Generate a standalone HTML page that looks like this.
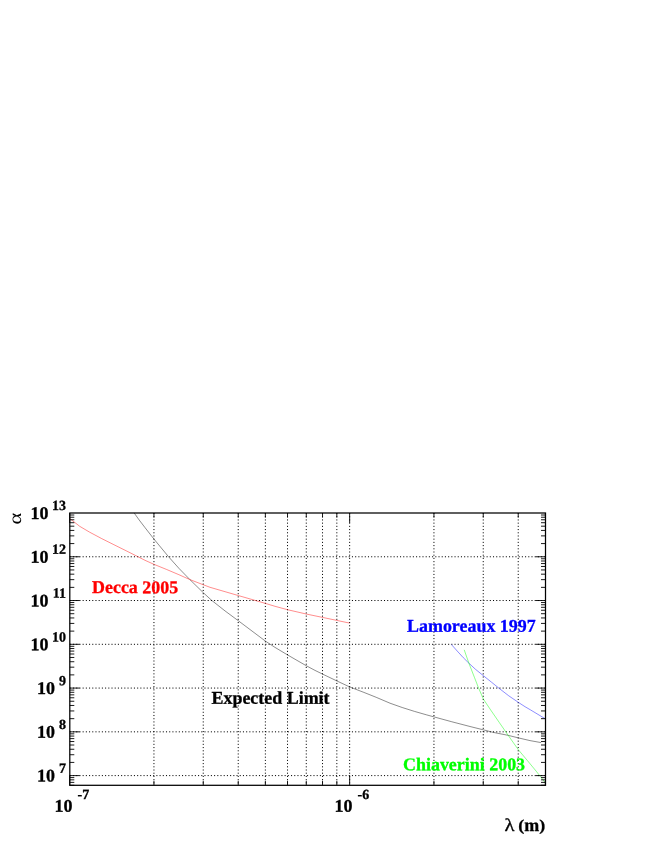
<!DOCTYPE html><html><head><meta charset="utf-8"><title>plot</title>
<style>html,body{margin:0;padding:0;background:#fff;}svg{display:block;will-change:transform;}text{font-family:"Liberation Serif",serif;font-weight:bold;text-rendering:geometricPrecision;stroke-width:0.3px;stroke-linejoin:round;}</style></head><body>
<svg width="654" height="846" viewBox="0 0 654 846">
<rect width="654" height="846" fill="#fff"/>
<line x1="69.8" y1="775.60" x2="545.5" y2="775.60" stroke="#000" stroke-width="1" stroke-dasharray="1.07 2.136" fill="none"/>
<line x1="69.8" y1="731.83" x2="545.5" y2="731.83" stroke="#000" stroke-width="1" stroke-dasharray="1.07 2.136" fill="none"/>
<line x1="69.8" y1="688.07" x2="545.5" y2="688.07" stroke="#000" stroke-width="1" stroke-dasharray="1.07 2.136" fill="none"/>
<line x1="69.8" y1="644.30" x2="545.5" y2="644.30" stroke="#000" stroke-width="1" stroke-dasharray="1.07 2.136" fill="none"/>
<line x1="69.8" y1="600.53" x2="545.5" y2="600.53" stroke="#000" stroke-width="1" stroke-dasharray="1.07 2.136" fill="none"/>
<line x1="69.8" y1="556.77" x2="545.5" y2="556.77" stroke="#000" stroke-width="1" stroke-dasharray="1.07 2.136" fill="none"/>
<line x1="153.94" y1="513.0" x2="153.94" y2="785.3" stroke="#000" stroke-width="1" stroke-dasharray="1.07 2.136" fill="none"/>
<line x1="203.24" y1="513.0" x2="203.24" y2="785.3" stroke="#000" stroke-width="1" stroke-dasharray="1.07 2.136" fill="none"/>
<line x1="238.23" y1="513.0" x2="238.23" y2="785.3" stroke="#000" stroke-width="1" stroke-dasharray="1.07 2.136" fill="none"/>
<line x1="265.36" y1="513.0" x2="265.36" y2="785.3" stroke="#000" stroke-width="1" stroke-dasharray="1.07 2.136" fill="none"/>
<line x1="287.53" y1="513.0" x2="287.53" y2="785.3" stroke="#000" stroke-width="1" stroke-dasharray="1.07 2.136" fill="none"/>
<line x1="306.28" y1="513.0" x2="306.28" y2="785.3" stroke="#000" stroke-width="1" stroke-dasharray="1.07 2.136" fill="none"/>
<line x1="322.52" y1="513.0" x2="322.52" y2="785.3" stroke="#000" stroke-width="1" stroke-dasharray="1.07 2.136" fill="none"/>
<line x1="336.84" y1="513.0" x2="336.84" y2="785.3" stroke="#000" stroke-width="1" stroke-dasharray="1.07 2.136" fill="none"/>
<line x1="349.65" y1="513.0" x2="349.65" y2="785.3" stroke="#000" stroke-width="1" stroke-dasharray="1.07 2.136" fill="none"/>
<line x1="433.94" y1="513.0" x2="433.94" y2="785.3" stroke="#000" stroke-width="1" stroke-dasharray="1.07 2.136" fill="none"/>
<line x1="483.24" y1="513.0" x2="483.24" y2="785.3" stroke="#000" stroke-width="1" stroke-dasharray="1.07 2.136" fill="none"/>
<line x1="518.23" y1="513.0" x2="518.23" y2="785.3" stroke="#000" stroke-width="1" stroke-dasharray="1.07 2.136" fill="none"/>
<polyline fill="none" stroke="#000" stroke-width="0.45" points="134.1,512.9 139.2,520.0 145.0,527.6 153.9,539.0 168.5,556.7 178.9,568.3 189.9,579.6 203.4,592.8 211.6,600.3 225.0,610.9 238.5,620.9 265.4,641.1 275.0,647.4 287.5,654.9 306.2,665.7 315.0,670.4 322.6,674.1 337.0,681.0 349.6,686.9 363.9,692.4 376.2,697.3 390.0,703.2 402.2,707.5 414.5,711.4 426.7,714.9 434.0,716.9 451.2,721.6 470.0,726.5 483.6,729.9 493.3,732.4 508.0,735.3 518.4,737.9 530.0,740.6 541.1,742.6"/>
<polyline fill="none" stroke="#f00" stroke-width="0.45" points="69.6,518.4 79.7,526.3 89.5,532.1 101.7,538.6 113.9,544.7 126.2,550.8 137.3,556.4 145.0,560.3 153.9,564.3 166.7,569.5 178.9,574.7 189.9,579.6 203.4,584.8 210.0,587.3 238.5,595.6 265.4,603.4 275.0,606.3 287.5,609.7 306.2,614.0 322.5,617.4 336.8,620.4 349.6,623.1"/>
<polyline fill="none" stroke="#00f" stroke-width="0.45" points="451.4,644.5 457.2,651.0 463.3,657.7 468.9,663.2 475.6,669.4 483.5,675.8 491.5,682.2 498.8,688.1 508.6,695.7 518.4,702.4 525.0,706.7 530.7,710.0 545.3,718.8"/>
<polyline fill="none" stroke="#0f0" stroke-width="0.45" points="464.2,649.8 468.9,663.2 474.4,677.3 478.6,688.1 483.5,699.3 490.7,710.0 499.5,722.8 508.0,735.1 518.4,749.8 527.6,760.8 536.2,771.2 545.3,782.8"/>
<text transform="matrix(1 0.0005 0 1 92.00 593.10)" font-size="17.95" fill="#f00" stroke="#f00">Decca 2005</text>
<text transform="matrix(1 0.0005 0 1 211.50 703.80)" font-size="17.95" fill="#000" stroke="#000">Expected Limit</text>
<text transform="matrix(1 0.0005 0 1 407.00 631.80)" font-size="17.95" fill="#00f" stroke="#00f">Lamoreaux 1997</text>
<text transform="matrix(1 0.0005 0 1 403.00 770.30)" font-size="17.95" fill="#0f0" stroke="#0f0">Chiaverini 2003</text>
<line x1="69.8" y1="785.31" x2="74.3" y2="785.31" stroke="#000" stroke-width="0.9"/>
<line x1="545.5" y1="785.31" x2="541.0" y2="785.31" stroke="#000" stroke-width="0.9"/>
<line x1="69.8" y1="782.38" x2="74.3" y2="782.38" stroke="#000" stroke-width="0.9"/>
<line x1="545.5" y1="782.38" x2="541.0" y2="782.38" stroke="#000" stroke-width="0.9"/>
<line x1="69.8" y1="779.84" x2="74.3" y2="779.84" stroke="#000" stroke-width="0.9"/>
<line x1="545.5" y1="779.84" x2="541.0" y2="779.84" stroke="#000" stroke-width="0.9"/>
<line x1="69.8" y1="777.60" x2="74.3" y2="777.60" stroke="#000" stroke-width="0.9"/>
<line x1="545.5" y1="777.60" x2="541.0" y2="777.60" stroke="#000" stroke-width="0.9"/>
<line x1="69.8" y1="775.60" x2="79.7" y2="775.60" stroke="#000" stroke-width="0.9"/>
<line x1="545.5" y1="775.60" x2="535.6" y2="775.60" stroke="#000" stroke-width="0.9"/>
<line x1="69.8" y1="762.42" x2="74.3" y2="762.42" stroke="#000" stroke-width="0.9"/>
<line x1="545.5" y1="762.42" x2="541.0" y2="762.42" stroke="#000" stroke-width="0.9"/>
<line x1="69.8" y1="754.72" x2="74.3" y2="754.72" stroke="#000" stroke-width="0.9"/>
<line x1="545.5" y1="754.72" x2="541.0" y2="754.72" stroke="#000" stroke-width="0.9"/>
<line x1="69.8" y1="749.25" x2="74.3" y2="749.25" stroke="#000" stroke-width="0.9"/>
<line x1="545.5" y1="749.25" x2="541.0" y2="749.25" stroke="#000" stroke-width="0.9"/>
<line x1="69.8" y1="745.01" x2="74.3" y2="745.01" stroke="#000" stroke-width="0.9"/>
<line x1="545.5" y1="745.01" x2="541.0" y2="745.01" stroke="#000" stroke-width="0.9"/>
<line x1="69.8" y1="741.54" x2="74.3" y2="741.54" stroke="#000" stroke-width="0.9"/>
<line x1="545.5" y1="741.54" x2="541.0" y2="741.54" stroke="#000" stroke-width="0.9"/>
<line x1="69.8" y1="738.61" x2="74.3" y2="738.61" stroke="#000" stroke-width="0.9"/>
<line x1="545.5" y1="738.61" x2="541.0" y2="738.61" stroke="#000" stroke-width="0.9"/>
<line x1="69.8" y1="736.07" x2="74.3" y2="736.07" stroke="#000" stroke-width="0.9"/>
<line x1="545.5" y1="736.07" x2="541.0" y2="736.07" stroke="#000" stroke-width="0.9"/>
<line x1="69.8" y1="733.84" x2="74.3" y2="733.84" stroke="#000" stroke-width="0.9"/>
<line x1="545.5" y1="733.84" x2="541.0" y2="733.84" stroke="#000" stroke-width="0.9"/>
<line x1="69.8" y1="731.83" x2="79.7" y2="731.83" stroke="#000" stroke-width="0.9"/>
<line x1="545.5" y1="731.83" x2="535.6" y2="731.83" stroke="#000" stroke-width="0.9"/>
<line x1="69.8" y1="718.66" x2="74.3" y2="718.66" stroke="#000" stroke-width="0.9"/>
<line x1="545.5" y1="718.66" x2="541.0" y2="718.66" stroke="#000" stroke-width="0.9"/>
<line x1="69.8" y1="710.95" x2="74.3" y2="710.95" stroke="#000" stroke-width="0.9"/>
<line x1="545.5" y1="710.95" x2="541.0" y2="710.95" stroke="#000" stroke-width="0.9"/>
<line x1="69.8" y1="705.48" x2="74.3" y2="705.48" stroke="#000" stroke-width="0.9"/>
<line x1="545.5" y1="705.48" x2="541.0" y2="705.48" stroke="#000" stroke-width="0.9"/>
<line x1="69.8" y1="701.24" x2="74.3" y2="701.24" stroke="#000" stroke-width="0.9"/>
<line x1="545.5" y1="701.24" x2="541.0" y2="701.24" stroke="#000" stroke-width="0.9"/>
<line x1="69.8" y1="697.78" x2="74.3" y2="697.78" stroke="#000" stroke-width="0.9"/>
<line x1="545.5" y1="697.78" x2="541.0" y2="697.78" stroke="#000" stroke-width="0.9"/>
<line x1="69.8" y1="694.85" x2="74.3" y2="694.85" stroke="#000" stroke-width="0.9"/>
<line x1="545.5" y1="694.85" x2="541.0" y2="694.85" stroke="#000" stroke-width="0.9"/>
<line x1="69.8" y1="692.31" x2="74.3" y2="692.31" stroke="#000" stroke-width="0.9"/>
<line x1="545.5" y1="692.31" x2="541.0" y2="692.31" stroke="#000" stroke-width="0.9"/>
<line x1="69.8" y1="690.07" x2="74.3" y2="690.07" stroke="#000" stroke-width="0.9"/>
<line x1="545.5" y1="690.07" x2="541.0" y2="690.07" stroke="#000" stroke-width="0.9"/>
<line x1="69.8" y1="688.07" x2="79.7" y2="688.07" stroke="#000" stroke-width="0.9"/>
<line x1="545.5" y1="688.07" x2="535.6" y2="688.07" stroke="#000" stroke-width="0.9"/>
<line x1="69.8" y1="674.89" x2="74.3" y2="674.89" stroke="#000" stroke-width="0.9"/>
<line x1="545.5" y1="674.89" x2="541.0" y2="674.89" stroke="#000" stroke-width="0.9"/>
<line x1="69.8" y1="667.18" x2="74.3" y2="667.18" stroke="#000" stroke-width="0.9"/>
<line x1="545.5" y1="667.18" x2="541.0" y2="667.18" stroke="#000" stroke-width="0.9"/>
<line x1="69.8" y1="661.72" x2="74.3" y2="661.72" stroke="#000" stroke-width="0.9"/>
<line x1="545.5" y1="661.72" x2="541.0" y2="661.72" stroke="#000" stroke-width="0.9"/>
<line x1="69.8" y1="657.48" x2="74.3" y2="657.48" stroke="#000" stroke-width="0.9"/>
<line x1="545.5" y1="657.48" x2="541.0" y2="657.48" stroke="#000" stroke-width="0.9"/>
<line x1="69.8" y1="654.01" x2="74.3" y2="654.01" stroke="#000" stroke-width="0.9"/>
<line x1="545.5" y1="654.01" x2="541.0" y2="654.01" stroke="#000" stroke-width="0.9"/>
<line x1="69.8" y1="651.08" x2="74.3" y2="651.08" stroke="#000" stroke-width="0.9"/>
<line x1="545.5" y1="651.08" x2="541.0" y2="651.08" stroke="#000" stroke-width="0.9"/>
<line x1="69.8" y1="648.54" x2="74.3" y2="648.54" stroke="#000" stroke-width="0.9"/>
<line x1="545.5" y1="648.54" x2="541.0" y2="648.54" stroke="#000" stroke-width="0.9"/>
<line x1="69.8" y1="646.30" x2="74.3" y2="646.30" stroke="#000" stroke-width="0.9"/>
<line x1="545.5" y1="646.30" x2="541.0" y2="646.30" stroke="#000" stroke-width="0.9"/>
<line x1="69.8" y1="644.30" x2="79.7" y2="644.30" stroke="#000" stroke-width="0.9"/>
<line x1="545.5" y1="644.30" x2="535.6" y2="644.30" stroke="#000" stroke-width="0.9"/>
<line x1="69.8" y1="631.12" x2="74.3" y2="631.12" stroke="#000" stroke-width="0.9"/>
<line x1="545.5" y1="631.12" x2="541.0" y2="631.12" stroke="#000" stroke-width="0.9"/>
<line x1="69.8" y1="623.42" x2="74.3" y2="623.42" stroke="#000" stroke-width="0.9"/>
<line x1="545.5" y1="623.42" x2="541.0" y2="623.42" stroke="#000" stroke-width="0.9"/>
<line x1="69.8" y1="617.95" x2="74.3" y2="617.95" stroke="#000" stroke-width="0.9"/>
<line x1="545.5" y1="617.95" x2="541.0" y2="617.95" stroke="#000" stroke-width="0.9"/>
<line x1="69.8" y1="613.71" x2="74.3" y2="613.71" stroke="#000" stroke-width="0.9"/>
<line x1="545.5" y1="613.71" x2="541.0" y2="613.71" stroke="#000" stroke-width="0.9"/>
<line x1="69.8" y1="610.24" x2="74.3" y2="610.24" stroke="#000" stroke-width="0.9"/>
<line x1="545.5" y1="610.24" x2="541.0" y2="610.24" stroke="#000" stroke-width="0.9"/>
<line x1="69.8" y1="607.31" x2="74.3" y2="607.31" stroke="#000" stroke-width="0.9"/>
<line x1="545.5" y1="607.31" x2="541.0" y2="607.31" stroke="#000" stroke-width="0.9"/>
<line x1="69.8" y1="604.77" x2="74.3" y2="604.77" stroke="#000" stroke-width="0.9"/>
<line x1="545.5" y1="604.77" x2="541.0" y2="604.77" stroke="#000" stroke-width="0.9"/>
<line x1="69.8" y1="602.54" x2="74.3" y2="602.54" stroke="#000" stroke-width="0.9"/>
<line x1="545.5" y1="602.54" x2="541.0" y2="602.54" stroke="#000" stroke-width="0.9"/>
<line x1="69.8" y1="600.53" x2="79.7" y2="600.53" stroke="#000" stroke-width="0.9"/>
<line x1="545.5" y1="600.53" x2="535.6" y2="600.53" stroke="#000" stroke-width="0.9"/>
<line x1="69.8" y1="587.36" x2="74.3" y2="587.36" stroke="#000" stroke-width="0.9"/>
<line x1="545.5" y1="587.36" x2="541.0" y2="587.36" stroke="#000" stroke-width="0.9"/>
<line x1="69.8" y1="579.65" x2="74.3" y2="579.65" stroke="#000" stroke-width="0.9"/>
<line x1="545.5" y1="579.65" x2="541.0" y2="579.65" stroke="#000" stroke-width="0.9"/>
<line x1="69.8" y1="574.18" x2="74.3" y2="574.18" stroke="#000" stroke-width="0.9"/>
<line x1="545.5" y1="574.18" x2="541.0" y2="574.18" stroke="#000" stroke-width="0.9"/>
<line x1="69.8" y1="569.94" x2="74.3" y2="569.94" stroke="#000" stroke-width="0.9"/>
<line x1="545.5" y1="569.94" x2="541.0" y2="569.94" stroke="#000" stroke-width="0.9"/>
<line x1="69.8" y1="566.48" x2="74.3" y2="566.48" stroke="#000" stroke-width="0.9"/>
<line x1="545.5" y1="566.48" x2="541.0" y2="566.48" stroke="#000" stroke-width="0.9"/>
<line x1="69.8" y1="563.55" x2="74.3" y2="563.55" stroke="#000" stroke-width="0.9"/>
<line x1="545.5" y1="563.55" x2="541.0" y2="563.55" stroke="#000" stroke-width="0.9"/>
<line x1="69.8" y1="561.01" x2="74.3" y2="561.01" stroke="#000" stroke-width="0.9"/>
<line x1="545.5" y1="561.01" x2="541.0" y2="561.01" stroke="#000" stroke-width="0.9"/>
<line x1="69.8" y1="558.77" x2="74.3" y2="558.77" stroke="#000" stroke-width="0.9"/>
<line x1="545.5" y1="558.77" x2="541.0" y2="558.77" stroke="#000" stroke-width="0.9"/>
<line x1="69.8" y1="556.77" x2="79.7" y2="556.77" stroke="#000" stroke-width="0.9"/>
<line x1="545.5" y1="556.77" x2="535.6" y2="556.77" stroke="#000" stroke-width="0.9"/>
<line x1="69.8" y1="543.59" x2="74.3" y2="543.59" stroke="#000" stroke-width="0.9"/>
<line x1="545.5" y1="543.59" x2="541.0" y2="543.59" stroke="#000" stroke-width="0.9"/>
<line x1="69.8" y1="535.88" x2="74.3" y2="535.88" stroke="#000" stroke-width="0.9"/>
<line x1="545.5" y1="535.88" x2="541.0" y2="535.88" stroke="#000" stroke-width="0.9"/>
<line x1="69.8" y1="530.42" x2="74.3" y2="530.42" stroke="#000" stroke-width="0.9"/>
<line x1="545.5" y1="530.42" x2="541.0" y2="530.42" stroke="#000" stroke-width="0.9"/>
<line x1="69.8" y1="526.18" x2="74.3" y2="526.18" stroke="#000" stroke-width="0.9"/>
<line x1="545.5" y1="526.18" x2="541.0" y2="526.18" stroke="#000" stroke-width="0.9"/>
<line x1="69.8" y1="522.71" x2="74.3" y2="522.71" stroke="#000" stroke-width="0.9"/>
<line x1="545.5" y1="522.71" x2="541.0" y2="522.71" stroke="#000" stroke-width="0.9"/>
<line x1="69.8" y1="519.78" x2="74.3" y2="519.78" stroke="#000" stroke-width="0.9"/>
<line x1="545.5" y1="519.78" x2="541.0" y2="519.78" stroke="#000" stroke-width="0.9"/>
<line x1="69.8" y1="517.24" x2="74.3" y2="517.24" stroke="#000" stroke-width="0.9"/>
<line x1="545.5" y1="517.24" x2="541.0" y2="517.24" stroke="#000" stroke-width="0.9"/>
<line x1="69.8" y1="515.00" x2="74.3" y2="515.00" stroke="#000" stroke-width="0.9"/>
<line x1="545.5" y1="515.00" x2="541.0" y2="515.00" stroke="#000" stroke-width="0.9"/>
<line x1="69.65" y1="785.3" x2="69.65" y2="775.4" stroke="#000" stroke-width="0.9"/>
<line x1="69.65" y1="513.0" x2="69.65" y2="522.9" stroke="#000" stroke-width="0.9"/>
<line x1="153.94" y1="785.3" x2="153.94" y2="780.8" stroke="#000" stroke-width="0.9"/>
<line x1="153.94" y1="513.0" x2="153.94" y2="517.5" stroke="#000" stroke-width="0.9"/>
<line x1="203.24" y1="785.3" x2="203.24" y2="780.8" stroke="#000" stroke-width="0.9"/>
<line x1="203.24" y1="513.0" x2="203.24" y2="517.5" stroke="#000" stroke-width="0.9"/>
<line x1="238.23" y1="785.3" x2="238.23" y2="780.8" stroke="#000" stroke-width="0.9"/>
<line x1="238.23" y1="513.0" x2="238.23" y2="517.5" stroke="#000" stroke-width="0.9"/>
<line x1="265.36" y1="785.3" x2="265.36" y2="780.8" stroke="#000" stroke-width="0.9"/>
<line x1="265.36" y1="513.0" x2="265.36" y2="517.5" stroke="#000" stroke-width="0.9"/>
<line x1="287.53" y1="785.3" x2="287.53" y2="780.8" stroke="#000" stroke-width="0.9"/>
<line x1="287.53" y1="513.0" x2="287.53" y2="517.5" stroke="#000" stroke-width="0.9"/>
<line x1="306.28" y1="785.3" x2="306.28" y2="780.8" stroke="#000" stroke-width="0.9"/>
<line x1="306.28" y1="513.0" x2="306.28" y2="517.5" stroke="#000" stroke-width="0.9"/>
<line x1="322.52" y1="785.3" x2="322.52" y2="780.8" stroke="#000" stroke-width="0.9"/>
<line x1="322.52" y1="513.0" x2="322.52" y2="517.5" stroke="#000" stroke-width="0.9"/>
<line x1="336.84" y1="785.3" x2="336.84" y2="780.8" stroke="#000" stroke-width="0.9"/>
<line x1="336.84" y1="513.0" x2="336.84" y2="517.5" stroke="#000" stroke-width="0.9"/>
<line x1="349.65" y1="785.3" x2="349.65" y2="775.4" stroke="#000" stroke-width="0.9"/>
<line x1="349.65" y1="513.0" x2="349.65" y2="522.9" stroke="#000" stroke-width="0.9"/>
<line x1="433.94" y1="785.3" x2="433.94" y2="780.8" stroke="#000" stroke-width="0.9"/>
<line x1="433.94" y1="513.0" x2="433.94" y2="517.5" stroke="#000" stroke-width="0.9"/>
<line x1="483.24" y1="785.3" x2="483.24" y2="780.8" stroke="#000" stroke-width="0.9"/>
<line x1="483.24" y1="513.0" x2="483.24" y2="517.5" stroke="#000" stroke-width="0.9"/>
<line x1="518.23" y1="785.3" x2="518.23" y2="780.8" stroke="#000" stroke-width="0.9"/>
<line x1="518.23" y1="513.0" x2="518.23" y2="517.5" stroke="#000" stroke-width="0.9"/>
<line x1="545.36" y1="785.3" x2="545.36" y2="780.8" stroke="#000" stroke-width="0.9"/>
<line x1="545.36" y1="513.0" x2="545.36" y2="517.5" stroke="#000" stroke-width="0.9"/>
<rect x="69.8" y="513.0" width="475.7" height="272.3" fill="none" stroke="#000" stroke-width="1.25"/>
<text transform="matrix(1 0.0005 0 1 66.00 772.70)" font-size="14" text-anchor="end" stroke="#000">7</text>
<text transform="matrix(1 0.0005 0 1 55.00 781.50)" font-size="18" text-anchor="end" stroke="#000">10</text>
<text transform="matrix(1 0.0005 0 1 66.00 728.93)" font-size="14" text-anchor="end" stroke="#000">8</text>
<text transform="matrix(1 0.0005 0 1 55.00 737.73)" font-size="18" text-anchor="end" stroke="#000">10</text>
<text transform="matrix(1 0.0005 0 1 66.00 685.17)" font-size="14" text-anchor="end" stroke="#000">9</text>
<text transform="matrix(1 0.0005 0 1 55.00 693.97)" font-size="18" text-anchor="end" stroke="#000">10</text>
<text transform="matrix(1 0.0005 0 1 66.00 641.40)" font-size="14" text-anchor="end" stroke="#000">10</text>
<text transform="matrix(1 0.0005 0 1 48.60 650.20)" font-size="18" text-anchor="end" stroke="#000">10</text>
<text transform="matrix(1 0.0005 0 1 66.00 597.63)" font-size="14" text-anchor="end" stroke="#000">11</text>
<text transform="matrix(1 0.0005 0 1 48.60 606.43)" font-size="18" text-anchor="end" stroke="#000">10</text>
<text transform="matrix(1 0.0005 0 1 66.00 553.87)" font-size="14" text-anchor="end" stroke="#000">12</text>
<text transform="matrix(1 0.0005 0 1 48.60 562.67)" font-size="18" text-anchor="end" stroke="#000">10</text>
<text transform="matrix(1 0.0005 0 1 66.00 510.10)" font-size="14" text-anchor="end" stroke="#000">13</text>
<text transform="matrix(1 0.0005 0 1 48.60 518.90)" font-size="18" text-anchor="end" stroke="#000">10</text>
<text transform="matrix(1 0.0005 0 1 54.45 811.65)" font-size="18" stroke="#000">10</text>
<text transform="matrix(1 0.0005 0 1 77.55 799.10)" font-size="14" stroke="#000">-7</text>
<text transform="matrix(1 0.0005 0 1 334.45 811.65)" font-size="18" stroke="#000">10</text>
<text transform="matrix(1 0.0005 0 1 357.55 799.10)" font-size="14" stroke="#000">-6</text>
<text transform="matrix(1.15 0.0005 0 1 504.60 831.10)" font-size="18" font-weight="normal" style="font-weight:normal" stroke="#000" stroke-width="0.2">λ</text>
<text transform="matrix(1 0.0005 0 0.88 518.30 830.60)" font-size="18" stroke="#000">(</text>
<text transform="matrix(1 0.0005 0 1 524.20 831.00)" font-size="18" stroke="#000">m</text>
<text transform="matrix(1 0.0005 0 0.88 539.20 830.60)" font-size="18" stroke="#000">)</text>
<text transform="translate(21.3,524.4) rotate(-90) scale(1.25,1)" font-size="18" font-weight="normal" style="font-weight:normal">α</text>
</svg></body></html>
